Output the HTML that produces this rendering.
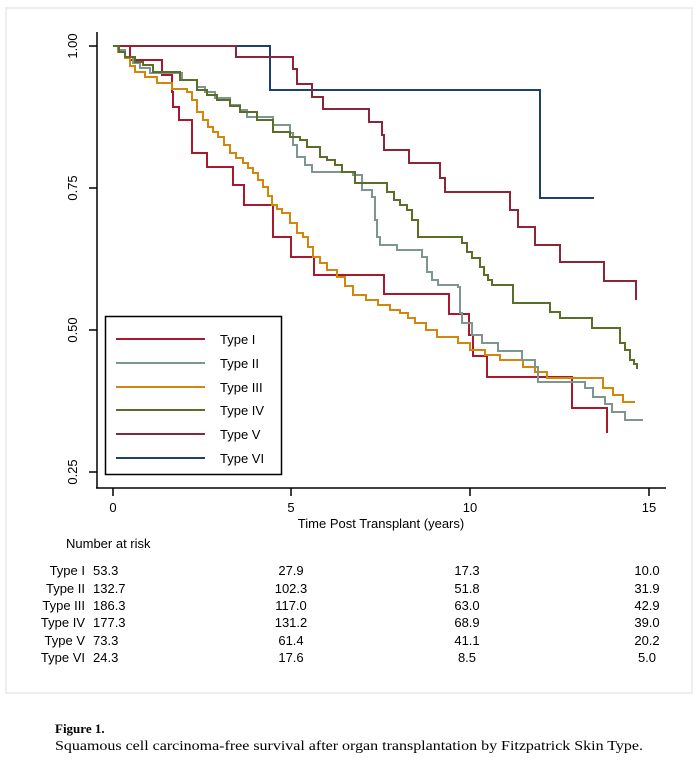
<!DOCTYPE html>
<html><head><meta charset="utf-8"><style>
body{margin:0;background:#fff;}
svg{display:block;}
</style></head><body>
<svg width="700" height="762" viewBox="0 0 700 762" xmlns="http://www.w3.org/2000/svg" font-family="'Liberation Sans', Arial, sans-serif">
<rect x="0" y="0" width="700" height="762" fill="#fff"/>
<rect x="6" y="8" width="686" height="685" fill="#fff" stroke="#eeeeee" stroke-width="2"/>
<!-- axes -->
<line x1="97" y1="32" x2="97" y2="488" stroke="#000" stroke-width="1.5"/>
<line x1="96" y1="488" x2="666" y2="488" stroke="#000" stroke-width="1.5"/>
<g stroke="#000" stroke-width="1.5">
<line x1="89" y1="46" x2="97" y2="46"/><line x1="89" y1="188" x2="97" y2="188"/>
<line x1="89" y1="330" x2="97" y2="330"/><line x1="89" y1="472" x2="97" y2="472"/>
<line x1="113" y1="488" x2="113" y2="496"/><line x1="291" y1="488" x2="291" y2="496"/>
<line x1="470" y1="488" x2="470" y2="496"/><line x1="649" y1="488" x2="649" y2="496"/>
</g>
<g font-size="13" fill="#000" text-anchor="middle">
<text transform="translate(77,46) rotate(-90)">1.00</text>
<text transform="translate(77,188) rotate(-90)">0.75</text>
<text transform="translate(77,330) rotate(-90)">0.50</text>
<text transform="translate(77,472) rotate(-90)">0.25</text>
<text x="113" y="512">0</text><text x="291" y="512">5</text>
<text x="470" y="512">10</text><text x="649" y="512">15</text>
<text x="381" y="528">Time Post Transplant (years)</text>
</g>
<g fill="none" stroke-width="2" stroke-linejoin="miter">
<!-- Type VI -->
<path stroke="#1F3F6E" d="M113,46 H270 V90 H540 V198 H594"/>
<!-- Type V -->
<path stroke="#8A2637" d="M113,46 H236 V57 H293 V69 H297 V84 H312 V97 H323 V109 H369 V122 H382 V135 H384 V150 H409 V163 H440 V178 H445 V192 H510 V210 H518 V227 H535 V245 H560 V262 H604 V281 H636 V300"/>
<!-- Type I -->
<path stroke="#A8192E" d="M113,46 H130 V60 H162 V75 H172 V92 H173 V107 H179 V120 H192 V153 H207 V167 H233 V185 H244 V205 H273 V237 H291 V257 H314 V275 H384 V294 H449 V314 H469 V335 H473 V356 H487 V377 H572 V408 H607 V433"/>
<path id="p3" stroke="#D4860B" d="M113,46 H118 V52 H125 V58 H130 V66 H135 V72 H145 V77 H157 V83 H172 V89 H187 V92 H192 V100 H197 V112 H203 V120 H208 V127 H213 V132 H218 V137 H224 V145 H230 V153 H236 V158 H243 V163 H248 V168 H253 V173 H258 V180 H263 V187 H268 V196 H272 V205 H277 V209 H282 V213 H290 V223 H297 V233 H303 V237 H308 V247 H313 V257 H320 V263 H327 V270 H337 V277 H345 V286 H353 V295 H366 V300 H378 V305 H390 V310 H400 V313 H408 V318 H415 V323 H426 V330 H437 V337 H458 V343 H470 V350 H485 V355 H500 V360 H523 V367 H535 V372 H547 V378 H603 V388 H613 V395 H623 V402 H635"/>
<!-- Type II -->
<path stroke="#7D9692" d="M113,46 H118 V50 H125 V57 H133 V63 H140 V68 H150 V73 H182 V80 H197 V87 H205 V92 H215 V98 H230 V105 H240 V110 H247 V117 H273 V125 H290 V133 H293 V145 H297 V157 H305 V165 H312 V172 H353 V175 H362 V190 H372 V197 H375 V220 H377 V237 H380 V245 H397 V250 H422 V257 H427 V272 H432 V280 H438 V285 H458 V287 H460 V313 H462 V323 H472 V335 H482 V343 H498 V351 H522 V360 H535 V367 H538 V382 H585 V388 H593 V397 H605 V404 H612 V412 H625 V420 H643"/>
<!-- Type IV -->
<path stroke="#5A6E28" d="M113,46 H119 V52 H125 V57 H135 V62 H143 V65 H153 V72 H180 V80 H197 V90 H207 V95 H217 V100 H230 V106 H240 V112 H257 V120 H273 V132 H290 V137 H300 V140 H307 V147 H320 V157 H327 V160 H335 V165 H342 V172 H355 V183 H387 V192 H394 V200 H400 V205 H407 V210 H412 V220 H418 V237 H462 V243 H467 V252 H472 V258 H480 V267 H484 V275 H488 V280 H492 V285 H513 V303 H550 V312 H560 V318 H592 V328 H620 V343 H625 V350 H630 V360 H634 V364 H637 V369"/>
</g>
<!-- legend -->
<rect x="105.5" y="316.5" width="176" height="158" fill="#fff" stroke="#000" stroke-width="1.5"/>
<g stroke-width="2">
<line x1="116" y1="339" x2="205" y2="339" stroke="#A8192E"/>
<line x1="116" y1="363" x2="205" y2="363" stroke="#7D9692"/>
<line x1="116" y1="387" x2="205" y2="387" stroke="#D4860B"/>
<line x1="116" y1="410" x2="205" y2="410" stroke="#5A6E28"/>
<line x1="116" y1="434" x2="205" y2="434" stroke="#8A2637"/>
<line x1="116" y1="458" x2="205" y2="458" stroke="#1F3F6E"/>
</g>
<g font-size="13" fill="#000">
<text x="220" y="344">Type I</text><text x="220" y="368">Type II</text>
<text x="220" y="392">Type III</text><text x="220" y="415">Type IV</text>
<text x="220" y="439">Type V</text><text x="220" y="463">Type VI</text>
</g>
<!-- risk table -->
<g font-size="13" fill="#000">
<text x="66" y="548">Number at risk</text>
<g text-anchor="end">
<text x="85" y="575">Type I</text><text x="85" y="593">Type II</text><text x="85" y="610">Type III</text>
<text x="85" y="627">Type IV</text><text x="85" y="645">Type V</text><text x="85" y="662">Type VI</text>
</g>
<g>
<text x="93" y="575">53.3</text><text x="93" y="593">132.7</text><text x="93" y="610">186.3</text>
<text x="93" y="627">177.3</text><text x="93" y="645">73.3</text><text x="93" y="662">24.3</text>
</g>
<g text-anchor="middle">
<text x="291" y="575">27.9</text><text x="291" y="593">102.3</text><text x="291" y="610">117.0</text>
<text x="291" y="627">131.2</text><text x="291" y="645">61.4</text><text x="291" y="662">17.6</text>
<text x="467" y="575">17.3</text><text x="467" y="593">51.8</text><text x="467" y="610">63.0</text>
<text x="467" y="627">68.9</text><text x="467" y="645">41.1</text><text x="467" y="662">8.5</text>
<text x="647" y="575">10.0</text><text x="647" y="593">31.9</text><text x="647" y="610">42.9</text>
<text x="647" y="627">39.0</text><text x="647" y="645">20.2</text><text x="647" y="662">5.0</text>
</g>
</g>
<g font-family="'Liberation Serif', 'Times New Roman', serif" fill="#000">
<text x="55" y="733" font-size="13" font-weight="bold">Figure 1.</text>
<text x="55" y="750" font-size="14" textLength="588" lengthAdjust="spacingAndGlyphs">Squamous cell carcinoma-free survival after organ transplantation by Fitzpatrick Skin Type.</text>
</g>
</svg>
</body></html>
